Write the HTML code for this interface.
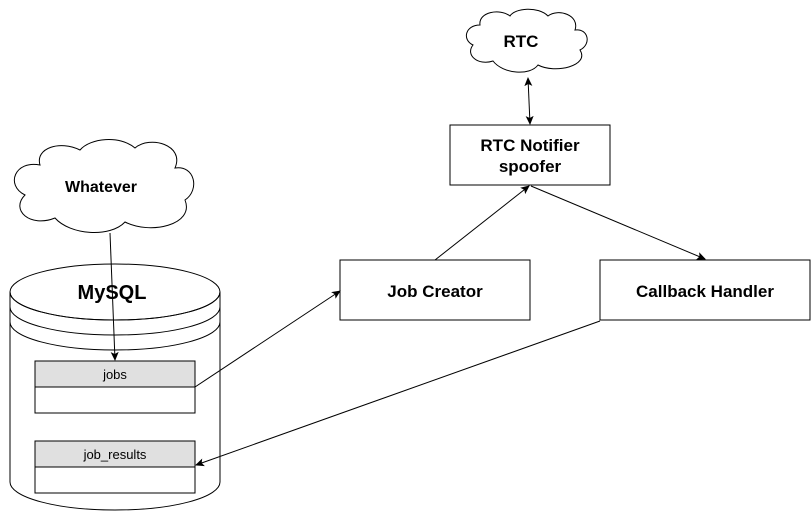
<!DOCTYPE html>
<html><head><style>body{margin:0;background:#fff}svg{display:block}</style></head><body>
<svg width="811" height="512" viewBox="0 0 811 512" xmlns="http://www.w3.org/2000/svg" font-family="Liberation Sans, sans-serif">
<defs><marker id="a" markerWidth="10" markerHeight="10" refX="8" refY="5" orient="auto-start-reverse" markerUnits="userSpaceOnUse"><path d="M0,1 L9,5 L0,9 L2,5 z" fill="#000"/></marker></defs>
<g fill="#fff" stroke="#000" stroke-width="1">
<!-- cylinder -->
<path d="M10,292 L10,482 A105,28 0 0 0 220,482 L220,292"/>
<ellipse cx="115" cy="292" rx="105" ry="28"/>
<path d="M10,292 A105,28 0 0 0 220,292" fill="none"/>
<path d="M10,307 A105,28 0 0 0 220,307" fill="none"/>
<path d="M10,322 A105,28 0 0 0 220,322" fill="none"/>
<rect x="35" y="361" width="160" height="26" fill="#e0e0e0"/>
<rect x="35" y="387" width="160" height="26"/>
<rect x="35" y="441" width="160" height="26" fill="#e0e0e0"/>
<rect x="35" y="467" width="160" height="26"/>
<!-- boxes -->
<rect x="450" y="125" width="160" height="60"/>
<rect x="340" y="260" width="190" height="60"/>
<rect x="600" y="260" width="210" height="60"/>
<!-- clouds -->
<path d="M40,165 C15,160 5,185 25,195 C10,210 30,228 55,218 C70,235 110,238 125,222 C150,235 195,225 185,200 C200,190 195,165 175,168 C185,145 150,135 135,148 C120,135 90,138 80,150 C60,140 35,148 40,165 z"/>
<path d="M480,25 C465,25 462,40 473,45 C465,55 478,66 493,61 C503,74 530,76 538,65 C555,74 590,66 580,50 C592,44 588,28 575,30 C580,15 558,8 548,16 C538,6 515,8 510,16 C500,8 478,12 480,25 z"/>
</g>
<g stroke="#000" fill="none">
<line x1="110" y1="233" x2="115" y2="360" marker-end="url(#a)"/>
<line x1="528" y1="78" x2="530" y2="124" marker-start="url(#a)" marker-end="url(#a)"/>
<line x1="435" y1="260" x2="529" y2="186" marker-end="url(#a)"/>
<line x1="531" y1="186" x2="705" y2="259" marker-end="url(#a)"/>
<line x1="195" y1="387" x2="340" y2="291" marker-end="url(#a)"/>
<line x1="600" y1="321" x2="196" y2="465" marker-end="url(#a)"/>
</g>
<g font-weight="bold" font-size="17" text-anchor="middle">
<text x="112" y="299" font-size="20">MySQL</text>
<text x="101" y="192" font-size="16">Whatever</text>
<text x="521" y="47">RTC</text>
<text x="530" y="151">RTC Notifier</text>
<text x="530" y="172">spoofer</text>
<text x="435" y="297">Job Creator</text>
<text x="705" y="297">Callback Handler</text>
</g>
<g font-size="13" text-anchor="middle">
<text x="115" y="379">jobs</text>
<text x="115" y="459">job_results</text>
</g>
</svg>
</body></html>
